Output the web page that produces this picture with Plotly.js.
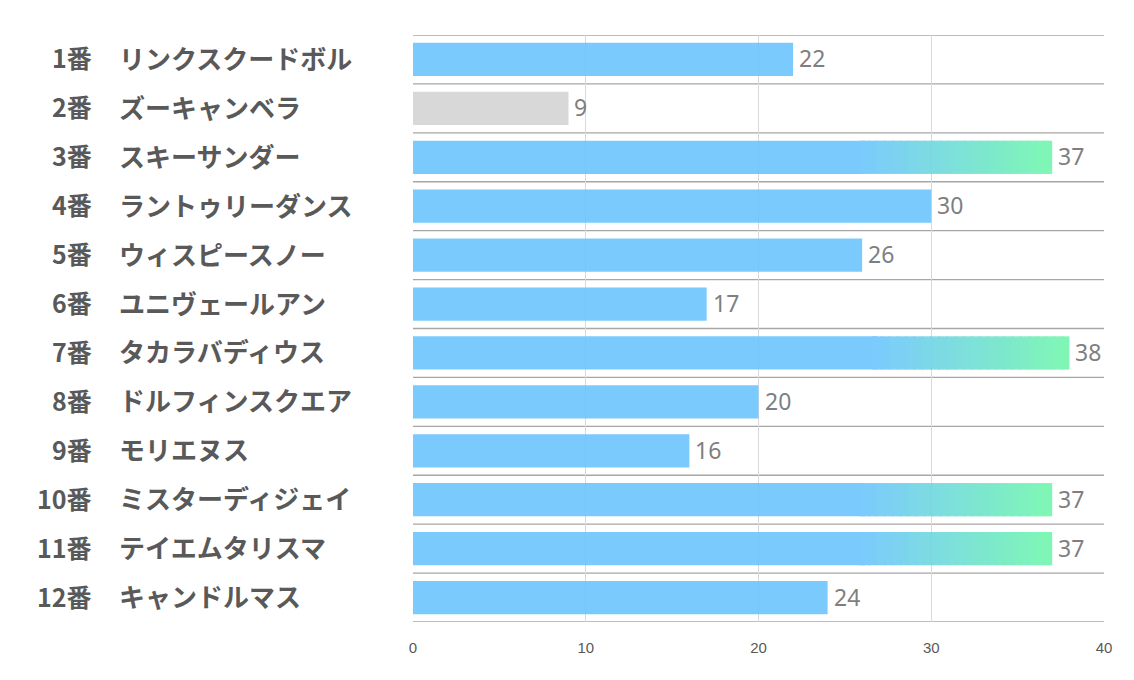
<!DOCTYPE html>
<html lang="ja">

<head>
    <meta charset="UTF-8">
    <title>出走馬</title>
    <script src="https://cdn.plot.ly/plotly-3.0.1.min.js"></script>
    <style>
        body {
            margin: 0;
            background: white;
        }

        #plot {
            width: 1134px;
            height: 680px;
        }
    </style>
</head>

<body>
    <div id="plot"></div>

    <script>
        // horse number, name, value
        const numbers = ['1番', '2番', '3番', '4番', '5番', '6番', '7番', '8番', '9番', '10番', '11番', '12番'];
        const names = ['リンクスクードボル', 'ズーキャンベラ', 'スキーサンダー', 'ラントゥリーダンス', 'ウィスピースノー',
            'ユニヴェールアン', 'タカラバディウス', 'ドルフィンスクエア', 'モリエヌス', 'ミスターディジェイ',
            'テイエムタリスマ', 'キャンドルマス'];
        const values = [22, 9, 37, 30, 26, 17, 38, 20, 16, 37, 37, 24];
        const greyed = ['2番'];
        const xTicks = [0, 10, 20, 30, 40];

        const BLUE = [109, 197, 254];
        const GREEN = [114, 247, 172];
        const GREY = 'rgb(212,212,212)';
        const HIGH = 35;       // values from here get the gradient
        const GRAD_START = 0.7;
        const STEPS = 24;

        function mix(a, b, t) {
            return 'rgb(' + a.map((v, i) => Math.round(v + (b[i] - v) * t)).join(',') + ')';
        }

        function createVisualization() {
            // one bar trace: solid bars plus small gradient pieces for the high values
            const barY = [], barX = [], barBase = [], barColor = [];
            values.forEach((v, i) => {
                const high = v >= HIGH;
                const start = v * GRAD_START;
                barY.push(numbers[i]);
                barBase.push(0);
                barX.push(high ? start * 1.01 : v);
                barColor.push(greyed.includes(numbers[i]) ? GREY : 'rgb(' + BLUE.join(',') + ')');
                if (!high) return;
                const step = (v - start) / STEPS;
                for (let k = 0; k < STEPS; k++) {
                    barY.push(numbers[i]);
                    barBase.push(start + k * step);
                    barX.push(k === STEPS - 1 ? step : step * 1.2);
                    barColor.push(mix(BLUE, GREEN, (k + 0.5) / STEPS));
                }
            });

            const traces = [
                {
                    type: 'bar',
                    orientation: 'h',
                    y: barY,
                    x: barX,
                    base: barBase,
                    width: 0.68,
                    marker: {color: barColor, line: {width: 0}},
                    opacity: 0.9,
                    hoverinfo: 'skip'
                }
            ];

            const annotations = [];
            numbers.forEach((n, i) => {
                // left labels: number right aligned, name left aligned
                annotations.push({
                    xref: 'paper', yref: 'y', x: -0.462, y: n, yshift: 2,
                    text: n, showarrow: false, xanchor: 'right',
                    font: {family: 'Noto Sans CJK JP', size: 25, color: '#595959', weight: 'bold'}
                });
                annotations.push({
                    xref: 'paper', yref: 'y', x: -0.428, y: n, yshift: 2,
                    text: names[i], showarrow: false, xanchor: 'left',
                    font: {family: 'Noto Sans CJK JP', size: 26, color: '#595959', weight: 'bold'}
                });
                // value labels
                annotations.push({
                    xref: 'x', yref: 'y', x: values[i], y: n, yshift: 1,
                    text: String(values[i]), showarrow: false, xanchor: 'left', xshift: 4,
                    font: {family: 'Noto Sans, DejaVu Sans, sans-serif', size: 23, color: '#7f7f7f'}
                });
            });

            // row separators
            const shapes = [];
            for (let i = 0; i <= numbers.length; i++) {
                shapes.push({
                    type: 'line', xref: 'paper', yref: 'y',
                    x0: 0, x1: 1, y0: i - 0.5, y1: i - 0.5,
                    line: {color: '#a6a6a6', width: 1.3},
                    layer: 'below'
                });
            }

            const layout = {
                width: 1134,
                height: 680,
                margin: {t: 35, r: 30, b: 58, l: 413},
                barmode: 'overlay',
                showlegend: false,
                xaxis: {
                    range: [0, 40],
                    tickvals: xTicks,
                    ticktext: xTicks.map(String),
                    showgrid: true,
                    gridcolor: '#d9d9d9',
                    gridwidth: 1,
                    zeroline: false,
                    showline: false,
                    ticks: 'outside',
                    ticklen: 12,
                    tickcolor: 'rgba(0,0,0,0)',
                    tickfont: {family: 'Liberation Sans Narrow, Liberation Sans, sans-serif', size: 15, color: '#595959'},
                    fixedrange: true
                },
                yaxis: {
                    type: 'category',
                    categoryorder: 'array',
                    categoryarray: numbers,
                    range: [numbers.length - 0.5, -0.5],
                    showticklabels: false,
                    showgrid: false,
                    zeroline: false,
                    fixedrange: true
                },
                annotations: annotations,
                shapes: shapes,
                plot_bgcolor: 'white',
                paper_bgcolor: 'white'
            };

            Plotly.newPlot('plot', traces, layout, {displayModeBar: false, staticPlot: true});
        }

        document.addEventListener('DOMContentLoaded', createVisualization);
    </script>
</body>

</html>
